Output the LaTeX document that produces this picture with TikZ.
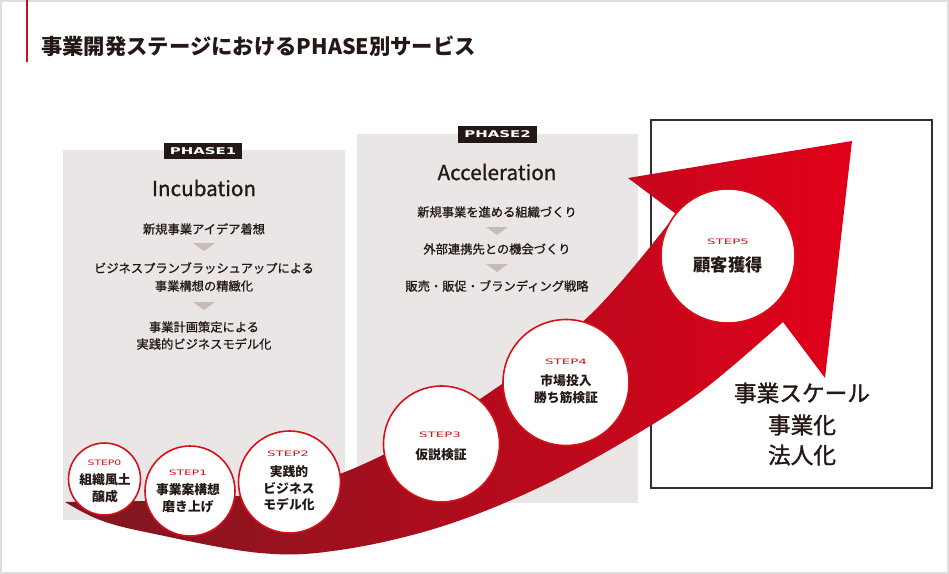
\documentclass[tikz,border=0pt]{standalone}
\usepackage{fontspec}
\setmainfont{Noto Sans CJK JP}
\newfontfamily\medfont[FakeBold=0.9]{Noto Sans CJK JP}
\newfontfamily\goalfont[FakeBold=1.4]{Noto Sans CJK JP}
\newfontfamily\tagfont{DejaVu Sans}
\usetikzlibrary{positioning}

\definecolor{inkdark}{HTML}{231815}
\definecolor{barred}{HTML}{C8101E}
\definecolor{framegray}{HTML}{DEDEDE}
\definecolor{phasegray}{HTML}{E9E6E5}
\definecolor{tripink}{HTML}{C9B9B9}
\definecolor{stepred}{HTML}{D7101C}
\definecolor{arrowdark}{HTML}{7C1820}
\definecolor{arrowmid}{HTML}{A8111D}
\definecolor{arrowred}{HTML}{E2001A}
\definecolor{boxline}{HTML}{3A2C2B}

\newcommand{\stepwide}[2]{\scalebox{#1}[1]{#2}}

\begin{document}
\begin{tikzpicture}[x=0.75pt, y=-0.75pt,
    every node/.style={inner sep=0pt, text=inkdark},
    phasetitle/.style={font=\medfont\fontsize{15.5pt}{18pt}\selectfont},
    phaseline/.style={font=\medfont\fontsize{9.2pt}{11pt}\selectfont},
    phasetag/.style={fill=inkdark, text=white, minimum width=59pt, minimum height=12.5pt,
        font=\tagfont\bfseries\fontsize{7pt}{7pt}\selectfont},
    stepcircle/.style={circle, draw=stepred, line width=1.2pt, fill=white},
    steptag/.style={text=stepred, font=\tagfont\fontsize{5.6pt}{5.6pt}\selectfont},
    steptext/.style={font=\bfseries\fontsize{9.6pt}{11pt}\selectfont},
    goaltext/.style={font=\goalfont\fontsize{17pt}{20pt}\selectfont}]
        \useasboundingbox (0,0) rectangle (949,574);
        \draw [framegray, line width=1.5pt] (1,1.5) rectangle (947.5,572.5);

        % title
        \draw [barred, line width=2pt] (27,0) -- (27,62);
        \node[anchor=west, font=\bfseries\fontsize{16pt}{19pt}\selectfont] (title) at (41,46)
            {事業開発ステージにおけるPHASE別サービス};

        % phase boxes
        \fill [phasegray] (63,150) rectangle (345,520);
        \fill [phasegray] (357,134) rectangle (638,503);
        \draw [boxline, line width=2pt] (651,120) rectangle (932,488);

        \node[phasetag] (phase1tag) at (203,151) {\stepwide{1.6}{PHASE1}};
        \node[phasetag] (phase2tag) at (497.5,134.5) {\stepwide{1.6}{PHASE2}};

        \node[phasetitle] (incubation) at (204,188) {Incubation};
        \node[phaseline] (p1a) at (204,229) {新規事業アイデア着想};
        \fill [tripink] (193,243) -- (215,243) -- (204,251) -- cycle;
        \node[phaseline] (p1b) at (204,268) {ビジネスプランブラッシュアップによる};
        \node[phaseline] (p1c) at (204,286) {事業構想の精緻化};
        \fill [tripink] (193,302) -- (215,302) -- (204,310) -- cycle;
        \node[phaseline] (p1d) at (204,327) {事業計画策定による};
        \node[phaseline] (p1e) at (204,344) {実践的ビジネスモデル化};

        \node[phasetitle] (acceleration) at (497,172) {Acceleration};
        \node[phaseline] (p2a) at (497,212) {新規事業を進める組織づくり};
        \fill [tripink] (486,227) -- (508,227) -- (497,235) -- cycle;
        \node[phaseline] (p2b) at (497,249) {外部連携先との機会づくり};
        \fill [tripink] (486,264) -- (508,264) -- (497,272) -- cycle;
        \node[phaseline] (p2c) at (497,286) {販売・販促・ブランディング戦略};

        % growth arrow
        \shade [left color=arrowdark, middle color=arrowmid, right color=arrowred]
            plot [smooth, tension=0.6] coordinates { (65,502) (200,499) (300,486) (383,455) (483,397) (590,315) (676,214) }
            -- (628,178) -- (852,141) -- (825,378) -- (783,322)
            -- plot [smooth, tension=0.6] coordinates { (783,322) (707,387) (640,432) (540,487) (440,527) (340,550) (260,553) (150,533) (100,520) (65,502) }
            -- cycle;

        % steps
        \node[stepcircle, minimum size=54pt] (step0) at (104.5,479) {};
        \node[steptag] (step0tag) at (104.5,463) {\stepwide{1.45}{STEP0}};
        \node[steptext] (step0a) at (105,480) {組織風土};
        \node[steptext] (step0b) at (105,497) {醸成};

        \node[stepcircle, minimum size=67.5pt] (step1) at (190,491) {};
        \node[steptag] (step1tag) at (188,473) {\stepwide{1.65}{STEP1}};
        \node[steptext] (step1a) at (188,490) {事業案構想};
        \node[steptext] (step1b) at (188,507) {磨き上げ};

        \node[stepcircle, minimum size=76.5pt] (step2) at (289.5,482) {};
        \node[steptag] (step2tag) at (288,454) {\stepwide{1.8}{STEP2}};
        \node[steptext] (step2a) at (289,472) {実践的};
        \node[steptext] (step2b) at (289,488) {ビジネス};
        \node[steptext] (step2c) at (289,504) {モデル化};

        \node[stepcircle, minimum size=87pt] (step3) at (441.5,444) {};
        \node[steptag] (step3tag) at (440,435) {\stepwide{1.8}{STEP3}};
        \node[steptext] (step3a) at (441,455) {仮説検証};

        \node[stepcircle, minimum size=94.5pt] (step4) at (566,382.5) {};
        \node[steptag] (step4tag) at (566,362) {\stepwide{1.8}{STEP4}};
        \node[steptext] (step4a) at (566,381) {市場投入};
        \node[steptext] (step4b) at (566,398) {勝ち筋検証};

        \node[stepcircle, minimum size=100.5pt] (step5) at (728,256) {};
        \node[steptag] (step5tag) at (728,242) {\stepwide{1.8}{STEP5}};
        \node[steptext, font=\bfseries\fontsize{13pt}{15pt}\selectfont] (step5a) at (728,265) {顧客獲得};

        % goal
        \node[goaltext] (goal1) at (802,393) {事業スケール};
        \node[goaltext] (goal2) at (802,425) {事業化};
        \node[goaltext] (goal3) at (802,455) {法人化};
    \end{tikzpicture}
\end{document}
